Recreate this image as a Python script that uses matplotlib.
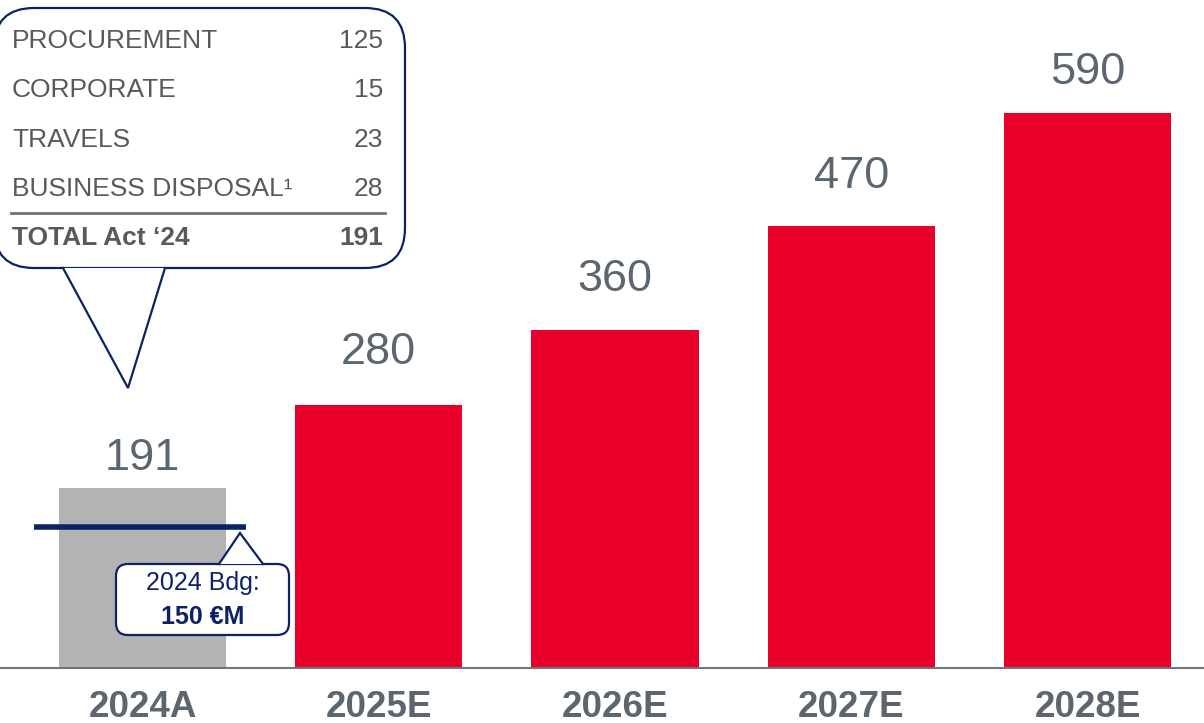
import matplotlib.pyplot as plt
from matplotlib.patches import FancyBboxPatch, Polygon

# bar chart of cost savings with breakdown callout and budget marker
plt.rcParams['font.family'] = ['Liberation Sans', 'DejaVu Sans']

years = ['2024A', '2025E', '2026E', '2027E', '2028E']
values = [191, 280, 360, 470, 590]
budget_2024 = 150

breakdown_labels = ['PROCUREMENT', 'CORPORATE', 'TRAVELS', 'BUSINESS DISPOSAL\u00b9']
breakdown_values = [125, 15, 23, 28]
total_label = 'TOTAL Act \u201824'
total_value = 191

RED = '#e8002a'
GREY_BAR = '#b3b3b3'
NAVY = '#0b2265'
TXT = '#5b6670'
DARK = '#595959'

W, H = 1204, 723
fig = plt.figure(figsize=(W / 100, H / 100), dpi=100)

# main axes: baseline at y=668 px, 0.94 px per unit
base = 668
ax = fig.add_axes([0, (H - base) / H, 1, base / H])
ax.set_ylim(0, base / 0.94)
ax.set_xlim(-142.5 / 236.25, (W - 142.5) / 236.25)

colors = [GREY_BAR] + [RED] * (len(years) - 1)
ax.bar(range(len(years)), values, width=0.707, color=colors, zorder=2)

# gaps between bar top and value label (px), as in the original slide
label_gap_px = [18, 41, 39, 38, 29]
for i, v in enumerate(values):
    ax.annotate(str(v), (i, v), xytext=(0, label_gap_px[i] * 0.72),
                textcoords='offset points', ha='center', va='baseline',
                fontsize=32.5, color=TXT)

ax.set_xticks(range(len(years)))
ax.set_xticklabels(years, fontsize=26.5, fontweight='bold', color=TXT)
ax.tick_params(axis='x', length=0, pad=16)
ax.set_yticks([])
for s in ['top', 'left', 'right']:
    ax.spines[s].set_visible(False)
ax.spines['bottom'].set_color('#6e7780')
ax.spines['bottom'].set_linewidth(1.5)

# budget line
ax.hlines(budget_2024, -0.459, 0.438, color=NAVY, linewidth=4, zorder=3)
line_px = H - ax.transData.transform((0, budget_2024))[1]

# overlay axes in pixel coords (y down) for callouts
ov = fig.add_axes([0, 0, 1, 1])
ov.set_xlim(0, W)
ov.set_ylim(H, 0)
ov.axis('off')

def bubble(x0, y0, x1, y1, r, base_l, base_r, tip, lw):
    box = FancyBboxPatch((x0, y0), x1 - x0, y1 - y0,
                         boxstyle='round,pad=0,rounding_size=%d' % r,
                         fc='white', ec=NAVY, lw=lw, zorder=4)
    ov.add_patch(box)
    yb = y1 if tip[1] > y1 else y0
    ov.add_patch(Polygon([(base_l, yb), tip, (base_r, yb)], closed=True,
                         fc='white', ec='none', zorder=5))
    ov.plot([base_l, tip[0], base_r], [yb, tip[1], yb], color=NAVY, lw=lw,
            zorder=6, solid_joinstyle='miter')

# breakdown callout above the 2024 bar
bubble(-6, 8, 405, 268, 40, 63, 165, (128, 388), 1.6)
rows_y = [41, 90, 140, 189]
for lab, val, y in zip(breakdown_labels, breakdown_values, rows_y):
    ov.text(12, y, lab, fontsize=19, color=DARK, va='center', ha='left', zorder=7)
    ov.text(383, y, str(val), fontsize=19, color=DARK, va='center', ha='right', zorder=7)
ov.plot([11, 385], [213, 213], color='#6b747c', lw=2, zorder=7)
ov.text(12, 238, total_label, fontsize=19, color=DARK, fontweight='bold',
        va='center', ha='left', zorder=7)
ov.text(383, 238, str(total_value), fontsize=19, color=DARK, fontweight='bold',
        va='center', ha='right', zorder=7)

# budget callout, pointer reaching up to the budget line
bubble(116, 564, 289, 635, 12, 219, 263, (240, line_px + 6), 1.6)
ov.text(203, 583, '2024 Bdg:', fontsize=18, color=NAVY, ha='center', va='center', zorder=7)
ov.text(203, 617, '%d \u20acM' % budget_2024, fontsize=18, color=NAVY,
        fontweight='bold', ha='center', va='center', zorder=7)

fig.savefig('out.png', dpi=100)
